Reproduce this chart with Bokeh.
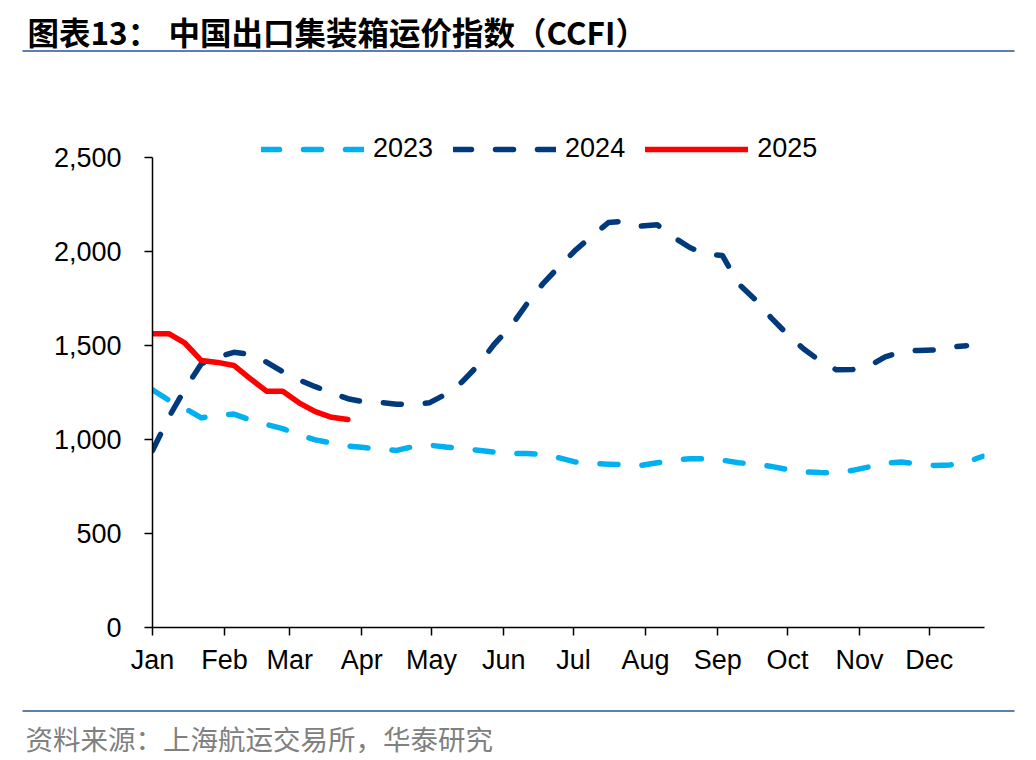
import numpy as np
from bokeh.plotting import figure
from bokeh.models import Range1d, FixedTicker, NumeralTickFormatter, Legend, LegendItem
from bokeh.layouts import column
from bokeh.core.properties import value
from bokeh.embed import file_html
from bokeh.resources import INLINE

# ---- data: weekly CCFI composite index, plotted against day of year ----
months = ["Jan", "Feb", "Mar", "Apr", "May", "Jun",
          "Jul", "Aug", "Sep", "Oct", "Nov", "Dec"]
month_start_day = [0, 31, 59, 90, 120, 151, 181, 212, 243, 273, 304, 334]

ccfi_2023 = [1264, 1209, 1165, 1115, 1130, 1135, 1105, 1080, 1058, 1025, 998, 982,
             965, 957, 950, 942, 962, 970, 960, 952, 943, 933, 926, 925, 922, 902,
             880, 873, 869, 866, 862, 876, 890, 898, 898, 890, 876, 870, 857, 840,
             828, 824, 823, 836, 854, 875, 880, 870, 862, 865, 880, 911]
ccfi_2024 = [941, 1118, 1270, 1403, 1437, 1464, 1452, 1412, 1360, 1317, 1281, 1248,
             1217, 1200, 1197, 1188, 1187, 1195, 1240, 1305, 1395, 1508, 1600, 1722,
             1831, 1922, 2009, 2083, 2154, 2162, 2135, 2142, 2076, 2021, 1985, 1979,
             1827, 1746, 1647, 1559, 1481, 1418, 1371, 1372, 1389, 1440, 1467, 1474,
             1476, 1492, 1499]
ccfi_2025 = [1562, 1563, 1512, 1420, 1410, 1394, 1324, 1257, 1257, 1195, 1148, 1118, 1106]

y_ticks = [0, 500, 1000, 1500, 2000, 2500]
y_max = 2500

series_names = ["2023", "2024", "2025"]
series_colors = ["#00B0F0", "#003A7D", "#FF0000"]
series_dash = ["18 24", "18 24", "solid"]

# ---- page geometry (pixels) ----
W = 1036
HEADER_H, MAIN_H, FOOTER_H = 60, 630, 70
FRAME_LEFT, FRAME_RIGHT = 152, 984
AXIS_TOP, AXIS_BOTTOM = 157, 627      # where y_max and 0 sit on the page
FRAME_TOP = 118                        # frame reaches a bit higher to hold the legend
RULE_COLOR = "#5B7FB2"
CJK = "Noto Sans CJK SC"
LATIN = "Liberation Sans"

y_top = y_max * (AXIS_BOTTOM - FRAME_TOP) / (AXIS_BOTTOM - AXIS_TOP)


def weekly_days(values):
    # one observation per week, starting from the first day of the year
    return [7 * i for i in range(len(values))]


def blank_panel(height):
    f = figure(width=W, height=height, x_range=Range1d(0, W), y_range=Range1d(height, 0),
               toolbar_location=None, output_backend="svg", min_border=0,
               x_axis_location=None, y_axis_location=None, outline_line_color=None,
               frame_align=False)
    f.grid.visible = False
    return f


# ---- header: title and rule ----
header = blank_panel(HEADER_H)
header.text(x=[27], y=[30], text=["图表13："], text_font=value(CJK), text_font_style="bold",
            text_font_size="31.5px", text_color="#000000", text_baseline="middle", text_align="left")
header.text(x=[168], y=[30], text=["中国出口集装箱运价指数（CCFI）"], text_font=value(CJK),
            text_font_style="bold", text_font_size="31.5px", text_color="#000000",
            text_baseline="middle", text_align="left")
header.segment(x0=[22], y0=[50.5], x1=[1014], y1=[50.5], line_color=RULE_COLOR, line_width=2)

# ---- main chart ----
p = figure(width=W, height=MAIN_H, x_range=Range1d(0, 357.7), y_range=Range1d(0, y_top),
           toolbar_location=None, output_backend="svg", title=None,
           min_border_left=FRAME_LEFT, min_border_right=W - FRAME_RIGHT,
           min_border_top=FRAME_TOP - HEADER_H,
           min_border_bottom=HEADER_H + MAIN_H - AXIS_BOTTOM,
           outline_line_color=None, frame_align=False)
p.grid.visible = False

renderers = []
for name, vals, color, dash in zip(series_names, [ccfi_2023, ccfi_2024, ccfi_2025],
                                   series_colors, series_dash):
    r = p.line(weekly_days(vals), vals, line_color=color, line_width=5.5, line_dash=dash,
               line_cap="round", line_join="round")
    renderers.append(r)

for ax in (p.xaxis[0], p.yaxis[0]):
    ax.axis_line_color = "#000000"
    ax.axis_line_width = 1.5
    ax.major_tick_line_color = "#000000"
    ax.major_tick_line_width = 1.5
    ax.major_tick_in = 0
    ax.major_tick_out = 8
    ax.minor_tick_line_color = None
    ax.major_label_text_font = LATIN
    ax.major_label_text_font_size = "27px"
    ax.major_label_text_color = "#000000"

p.xaxis.ticker = FixedTicker(ticks=month_start_day)
p.xaxis.major_label_overrides = {d: m for d, m in zip(month_start_day, months)}
p.xaxis.major_label_standoff = 9
p.yaxis.ticker = FixedTicker(ticks=y_ticks)
p.yaxis.formatter = NumeralTickFormatter(format="0,0")
p.yaxis.major_label_standoff = 23
p.yaxis.bounds = (0, y_max)

legend = Legend(items=[LegendItem(label=n, renderers=[r]) for n, r in zip(series_names, renderers)],
                orientation="horizontal", location=(109, AXIS_BOTTOM - 164),
                glyph_width=103, glyph_height=30, label_height=30, label_standoff=9, spacing=20,
                padding=0, margin=0, border_line_color=None, background_fill_alpha=0,
                label_text_font=LATIN, label_text_font_size="27px", label_text_color="#000000")
p.add_layout(legend)

# ---- footer: rule and source note ----
footer = blank_panel(FOOTER_H)
footer.segment(x0=[22], y0=[20.5], x1=[1014], y1=[20.5], line_color=RULE_COLOR, line_width=2)
footer.text(x=[25], y=[47], text=["资料来源：上海航运交易所，华泰研究"], text_font=value(CJK),
            text_font_size="27.5px", text_color="#808080", text_baseline="middle", text_align="left")

layout = column(header, p, footer, spacing=0)
open("out.html", "w").write(file_html(layout, INLINE, title="CCFI"))
